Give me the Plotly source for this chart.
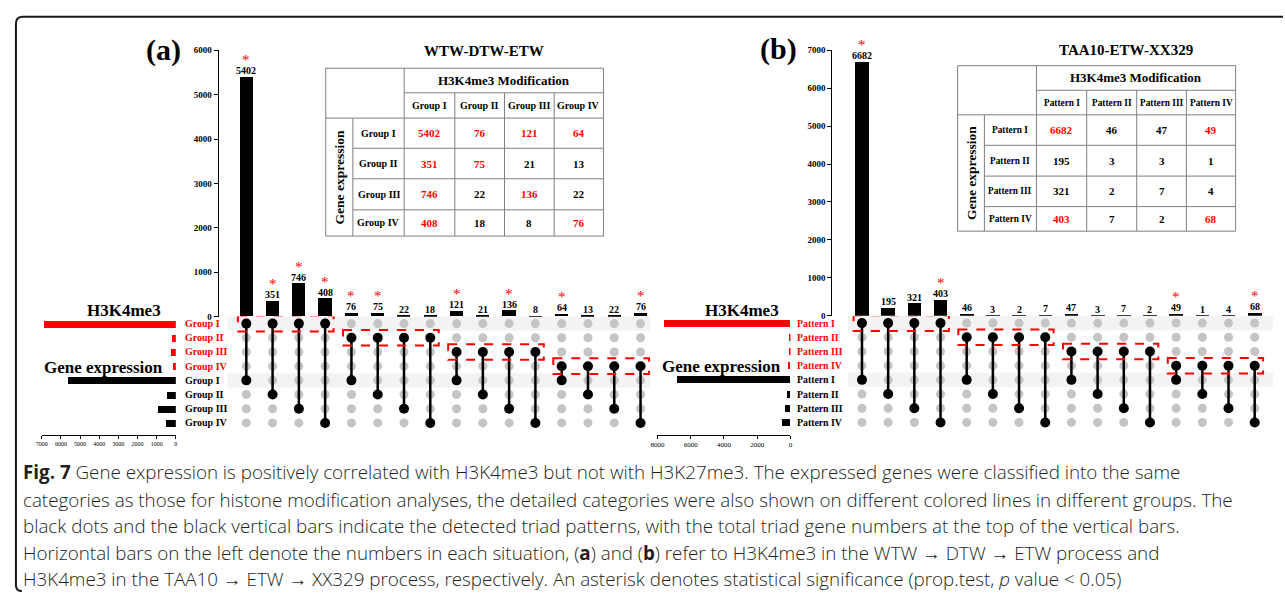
import plotly.graph_objects as go

# ---------------- data ----------------
groups_a = ["Group I", "Group II", "Group III", "Group IV"]
groups_b = ["Pattern I", "Pattern II", "Pattern III", "Pattern IV"]
title_a = "WTW-DTW-ETW"
title_b = "TAA10-ETW-XX329"
# rows: gene expression group, columns: H3K4me3 modification group
table_a = [[5402, 76, 121, 64],
           [351, 75, 21, 13],
           [746, 22, 136, 22],
           [408, 18, 8, 76]]
sig_a = [[1, 1, 1, 1],
         [1, 1, 0, 0],
         [1, 0, 1, 0],
         [1, 0, 0, 1]]
table_b = [[6682, 46, 47, 49],
           [195, 3, 3, 1],
           [321, 2, 7, 4],
           [403, 7, 2, 68]]
sig_b = [[1, 0, 0, 1],
         [0, 0, 0, 0],
         [0, 0, 0, 0],
         [1, 0, 0, 1]]
bar_ticks_a = [0, 1000, 2000, 3000, 4000, 5000, 6000]
bar_ticks_b = [0, 1000, 2000, 3000, 4000, 5000, 6000, 7000]
set_ticks_a = [0, 1000, 2000, 3000, 4000, 5000, 6000, 7000]
set_ticks_b = [0, 2000, 4000, 6000, 8000]

caption_lines = [
    "<b>Fig. 7</b> Gene expression is positively correlated with H3K4me3 but not with H3K27me3. The expressed genes were classified into the same",
    "categories as those for histone modification analyses, the detailed categories were also shown on different colored lines in different groups. The",
    "black dots and the black vertical bars indicate the detected triad patterns, with the total triad gene numbers at the top of the vertical bars.",
    "Horizontal bars on the left denote the numbers in each situation, (<b>a</b>) and (<b>b</b>) refer to H3K4me3 in the WTW → DTW → ETW process and",
    "H3K4me3 in the TAA10 → ETW → XX329 process, respectively. An asterisk denotes statistical significance (prop.test, <i>p</i> value &lt; 0.05)",
]

# ---------------- helpers ----------------
W, H = 1285, 601
SERIF = "Liberation Serif, Times New Roman, serif"
SANS = "Open Sans, Noto Sans, sans-serif"
RED = "#ff0000"


def px(x):
    return x / W


def py(y):
    return 1 - y / H


fig = go.Figure()
shapes = []
annotations = []
layout_axes = {}


def note(**kw):
    kw.setdefault("showarrow", False)
    kw.setdefault("xanchor", "center")
    kw.setdefault("yanchor", "middle")
    annotations.append(kw)


panels = [
    dict(tag="a", groups=groups_a, table=table_a, sig=sig_a, title=title_a,
         bar_ticks=bar_ticks_a, set_ticks=set_ticks_a, set_tickfont=6,
         xa="x", ya="y", yr="y3", xl="x3",
         xak="xaxis", yak="yaxis", yrk="yaxis3", xlk="xaxis3",
         col1=241, col16=638, yaxis_x=212, y0=317, ytop=46,
         row0=324, row7=425, left0=170, leftmax=35, left_axis_y=437,
         label_x=177, label_size=10, tcell_size=10, band=(222, 648), bw=0.5,
         h3_xy=(118, 311), ge_xy=(97, 369), panel_xy=(158, 46),
         title_xy=(480, 47),
         tx=[321, 348.3, 400, 451, 501, 551, 600.7],
         ty=[64.3, 89.3, 115, 145.7, 176.7, 208.3, 235]),
    dict(tag="b", groups=groups_b, table=table_b, sig=sig_b, title=title_b,
         bar_ticks=bar_ticks_b, set_ticks=set_ticks_b, set_tickfont=7,
         xa="x2", ya="y2", yr="y4", xl="x4",
         xak="xaxis2", yak="yaxis2", yrk="yaxis4", xlk="xaxis4",
         col1=861, col16=1256.5, yaxis_x=830, y0=316, ytop=46,
         row0=323.5, row7=424.5, left0=789, leftmax=655, left_axis_y=437,
         label_x=794, label_size=9.8, tcell_size=9.3, band=(847, 1275), bw=0.52,
         h3_xy=(740, 311), ge_xy=(720, 368), panel_xy=(777, 45),
         title_xy=(1127, 46),
         tx=[957.3, 984.3, 1036.7, 1087.3, 1137.7, 1187.7, 1237.3],
         ty=[61.7, 86.7, 111.7, 142.7, 174, 205, 230]),
]

for P in panels:
    tbl, sig, groups = P["table"], P["sig"], P["groups"]
    cols, vals, stars, mod_row, exp_row = [], [], [], [], []
    k = 0
    for m in range(4):
        for e in range(4):
            k += 1
            cols.append(k)
            vals.append(tbl[e][m])
            stars.append(sig[e][m])
            mod_row.append(m)
            exp_row.append(4 + e)
    mod_sizes = [sum(tbl[e][m] for e in range(4)) for m in range(4)]
    exp_sizes = [sum(tbl[e]) for e in range(4)]

    s = (P["col16"] - P["col1"]) / 15.0
    rs = (P["row7"] - P["row0"]) / 7.0

    layout_axes[P["xak"]] = dict(domain=[px(P["col1"] - s / 2), px(P["col16"] + s / 2)],
                                 range=[0.5, 16.5], visible=False, anchor=P["ya"])
    layout_axes[P["yak"]] = dict(domain=[py(P["y0"]), py(P["ytop"])],
                                 range=[0, P["bar_ticks"][-1]], anchor="free",
                                 position=px(P["yaxis_x"]), showline=True,
                                 linecolor="black", linewidth=1, ticks="outside",
                                 ticklen=4, tickcolor="black", tickvals=P["bar_ticks"],
                                 tickfont=dict(family=SERIF, size=9, color="black", weight="bold"),
                                 showgrid=False, zeroline=False)
    layout_axes[P["yrk"]] = dict(domain=[py(P["row7"] + rs / 2), py(P["row0"] - rs / 2)],
                                 range=[7.5, -0.5], visible=False, anchor=P["xa"])
    layout_axes[P["xlk"]] = dict(domain=[px(P["leftmax"]), px(P["left0"])],
                                 range=[P["set_ticks"][-1], 0], anchor="free",
                                 position=py(P["left_axis_y"]), side="bottom",
                                 showline=True, linecolor="black", linewidth=1,
                                 ticks="outside", ticklen=3, tickcolor="black",
                                 tickvals=P["set_ticks"],
                                 tickfont=dict(family=SERIF, size=P["set_tickfont"], color="black"),
                                 showgrid=False, zeroline=False)

    for r in (0, 4):
        shapes.append(dict(type="rect", xref="paper", yref=P["yr"],
                           x0=px(P["band"][0]), x1=px(P["band"][1]),
                           y0=r - 0.5, y1=r + 0.5, fillcolor="#f3f3f3",
                           line=dict(width=0), layer="below"))

    fig.add_trace(go.Bar(x=cols, y=vals, xaxis=P["xa"], yaxis=P["ya"],
                         width=P["bw"], marker=dict(color="black", line=dict(width=0)),
                         showlegend=False, hoverinfo="x+y"))
    for c, v, st in zip(cols, vals, stars):
        note(x=c, y=v, xref=P["xa"], yref=P["ya"], text=str(v), yanchor="bottom", yshift=-1,
             font=dict(family=SERIF, size=10, color="black", weight="bold"))
        if st:
            note(x=c, y=v, xref=P["xa"], yref=P["ya"], text="*", yanchor="bottom", yshift=7,
                 font=dict(family=SERIF, size=15, color=RED))

    gx, gy = [], []
    for c in cols:
        for r in range(8):
            gx.append(c)
            gy.append(r)
    fig.add_trace(go.Scatter(x=gx, y=gy, xaxis=P["xa"], yaxis=P["yr"], mode="markers",
                             marker=dict(size=9, color="#c4c4c4"), showlegend=False,
                             hoverinfo="skip"))
    lx, ly, bx, by = [], [], [], []
    for c, m, e in zip(cols, mod_row, exp_row):
        lx += [c, c, None]
        ly += [m, e, None]
        bx += [c, c]
        by += [m, e]
    fig.add_trace(go.Scatter(x=lx, y=ly, xaxis=P["xa"], yaxis=P["yr"], mode="lines",
                             line=dict(color="black", width=2.5), showlegend=False,
                             hoverinfo="skip"))
    fig.add_trace(go.Scatter(x=bx, y=by, xaxis=P["xa"], yaxis=P["yr"], mode="markers",
                             marker=dict(size=10, color="black"), showlegend=False,
                             hoverinfo="skip"))

    for m in range(4):
        shapes.append(dict(type="rect", xref=P["xa"], yref=P["yr"],
                           x0=4 * m + 1 - 0.32, x1=4 * m + 4 + 0.32,
                           y0=m - 0.55, y1=m + 0.55,
                           line=dict(color=RED, width=2, dash="dash"), layer="above"))

    fig.add_trace(go.Bar(x=mod_sizes + exp_sizes, y=list(range(8)), orientation="h",
                         xaxis=P["xl"], yaxis=P["yr"], width=0.49,
                         marker=dict(color=[RED] * 4 + ["black"] * 4, line=dict(width=0)),
                         showlegend=False, hoverinfo="x"))
    for r in range(8):
        note(x=px(P["label_x"]), y=r, xref="paper", yref=P["yr"], text=groups[r % 4],
             xanchor="left",
             font=dict(family=SERIF, size=P["label_size"], color=RED if r < 4 else "black",
                       weight="bold"))

    note(x=px(P["h3_xy"][0]), y=py(P["h3_xy"][1]), xref="paper", yref="paper",
         text="H3K4me3", font=dict(family=SERIF, size=17, color="black", weight="bold"))
    note(x=px(P["ge_xy"][0]), y=py(P["ge_xy"][1]), xref="paper", yref="paper",
         text="Gene expression", font=dict(family=SERIF, size=17, color="black", weight="bold"))
    note(x=px(P["panel_xy"][0]), y=py(P["panel_xy"][1]), xref="paper", yref="paper",
         text="(%s)" % P["tag"], font=dict(family=SERIF, size=30, color="black", weight="bold"))
    note(x=px(P["title_xy"][0]), y=py(P["title_xy"][1]), xref="paper", yref="paper",
         text=P["title"], font=dict(family=SERIF, size=15, color="black", weight="bold"))

    tx, ty = P["tx"], P["ty"]
    lc = dict(color="#7f7f7f", width=1)

    def hline(y, x0, x1):
        shapes.append(dict(type="line", xref="paper", yref="paper", x0=px(x0), x1=px(x1),
                           y0=py(y), y1=py(y), line=lc))

    def vline(x, y0, y1):
        shapes.append(dict(type="line", xref="paper", yref="paper", x0=px(x), x1=px(x),
                           y0=py(y0), y1=py(y1), line=lc))

    shapes.append(dict(type="rect", xref="paper", yref="paper", x0=px(tx[0]), x1=px(tx[6]),
                       y0=py(ty[6]), y1=py(ty[0]), line=lc, fillcolor="white", layer="below"))
    hline(ty[1], tx[2], tx[6])
    hline(ty[2], tx[0], tx[6])
    for j in (3, 4, 5):
        hline(ty[j], tx[1], tx[6])
    vline(tx[1], ty[2], ty[6])
    vline(tx[2], ty[0], ty[6])
    for j in (3, 4, 5):
        vline(tx[j], ty[1], ty[6])

    def cell(x0, x1, y0, y1, text, size, color="black", angle=0):
        note(x=px((x0 + x1) / 2), y=py((y0 + y1) / 2), xref="paper", yref="paper",
             text=text, textangle=angle,
             font=dict(family=SERIF, size=size, color=color, weight="bold"))

    cell(tx[2], tx[6], ty[0], ty[1], "H3K4me3 Modification", 13)
    cell(tx[0], tx[1], ty[2], ty[6], "Gene expression", 13.5, angle=-90)
    for j in range(4):
        cell(tx[2 + j], tx[3 + j], ty[1], ty[2], groups[j], P["tcell_size"])
        cell(tx[1], tx[2], ty[2 + j], ty[3 + j], groups[j], P["tcell_size"])
    for e in range(4):
        for m in range(4):
            cell(tx[2 + m], tx[3 + m], ty[2 + e], ty[3 + e], str(tbl[e][m]), 11,
                 color=RED if sig[e][m] else "black")

cap_y = [475, 503, 530, 557, 584]
for yy, line in zip(cap_y, caption_lines):
    note(x=px(14), y=py(yy), xref="paper", yref="paper", text=line, xanchor="left",
         font=dict(family=SANS, size=18.8, color="#231f20", weight=300))

shapes.append(dict(type="path", xref="paper", yref="paper",
                   path="M %f,%f L %f,%f Q %f,%f %f,%f L %f,%f Q %f,%f %f,%f" % (
                       px(1285), py(12), px(16), py(12), px(9), py(12), px(9), py(19),
                       px(9), py(590), px(9), py(596), px(15), py(596)),
                   line=dict(color="#1a1a1a", width=2)))

fig.update_layout(width=W, height=H, margin=dict(l=0, r=0, t=0, b=0),
                  paper_bgcolor="white", plot_bgcolor="rgba(0,0,0,0)",
                  shapes=shapes, annotations=annotations, bargap=0,
                  showlegend=False, **layout_axes)

fig.write_html("out.html")
